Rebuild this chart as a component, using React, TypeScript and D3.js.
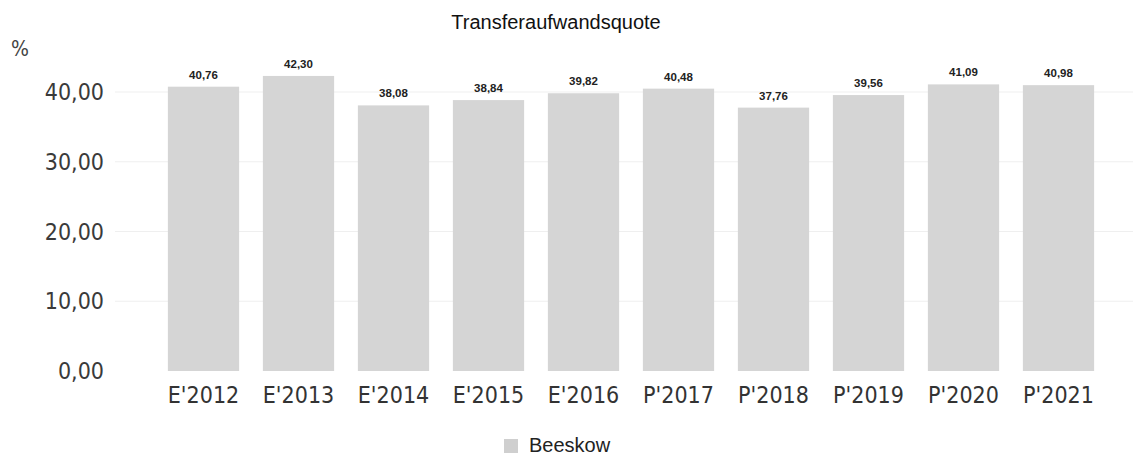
import React from "react";
import * as d3 from "d3";

const categories = ["E'2012", "E'2013", "E'2014", "E'2015", "E'2016", "P'2017", "P'2018", "P'2019", "P'2020", "P'2021"];
const values = [40.76, 42.3, 38.08, 38.84, 39.82, 40.48, 37.76, 39.56, 41.09, 40.98];
const yTicks = [0, 10, 20, 30, 40];
const seriesName = "Beeskow";
const title = "Transferaufwandsquote";
const unit = "%";

const W = 1137;
const H = 457;

const fmt = (v: number) => v.toFixed(2).replace(".", ",");

export default function App() {
  const x = d3.scaleBand<string>().domain(categories).range([156, 1106]).paddingInner(0.25).paddingOuter(0.125);
  const y = d3.scaleLinear().domain([0, 40]).range([371, 92]);
  const tickFont = "'DejaVu Sans Condensed', 'DejaVu Sans', sans-serif";
  return (
    <svg width={W} height={H} style={{ position: "absolute", left: 0, top: 0, background: "#fff" }}>
      <rect x={0} y={0} width={W} height={H} fill="#fff" />
      <text x={556} y={29} textAnchor="middle" fontFamily="'Liberation Sans', Arial, sans-serif" fontSize={20} fill="#111">
        {title}
      </text>
      <text x={11} y={56} fontFamily={tickFont} fontSize={21} fill="#444">
        {unit}
      </text>
      {yTicks.map((t) => (
        <g key={t}>
          {t > 0 && <line x1={115} x2={1133} y1={y(t)} y2={y(t)} stroke="#efefef" strokeWidth={1} />}
          <text x={104} y={y(t) + 8} textAnchor="end" fontFamily={tickFont} fontSize={23} fill="#3a3a3a">
            {fmt(t)}
          </text>
        </g>
      ))}
      {categories.map((c, i) => (
        <g key={c}>
          <rect x={x(c)!} y={y(values[i])} width={x.bandwidth()} height={y(0) - y(values[i])} fill="#d5d5d5" />
          <text x={x(c)! + x.bandwidth() / 2} y={y(values[i]) - 8} textAnchor="middle" fontFamily="'Liberation Sans', Arial, sans-serif" fontWeight="bold" fontSize={11.5} fill="#222">
            {fmt(values[i])}
          </text>
          <text x={x(c)! + x.bandwidth() / 2} y={403} textAnchor="middle" fontFamily={tickFont} fontSize={23} fill="#333">
            {c}
          </text>
        </g>
      ))}
      <rect x={504} y={439} width={14} height={14} fill="#cfcfcf" />
      <text x={529} y={452} fontFamily="'Liberation Sans', Arial, sans-serif" fontSize={20} fill="#222">
        {seriesName}
      </text>
    </svg>
  );
}
